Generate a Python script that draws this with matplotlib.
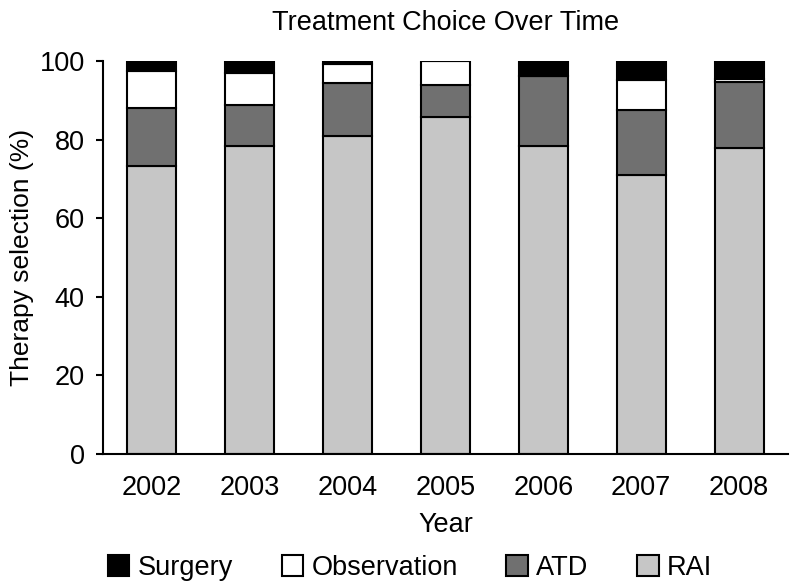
import matplotlib
matplotlib.use("Agg")
import matplotlib.pyplot as plt
import numpy as np

plt.rcParams['font.family'] = ['Liberation Sans', 'DejaVu Sans']

years = ['2002', '2003', '2004', '2005', '2006', '2007', '2008']
rai = [73.3, 78.4, 81.0, 85.8, 78.4, 71.1, 77.8]
atd = [14.8, 10.4, 13.4, 8.2, 17.7, 16.5, 16.9]
observation = [9.4, 8.1, 4.8, 6.0, 0.0, 7.5, 0.6]
surgery = [2.5, 3.1, 0.8, 0.0, 3.9, 4.9, 4.7]

series = [('RAI', rai, '#c6c6c6'),
          ('ATD', atd, '#707070'),
          ('Observation', observation, 'white'),
          ('Surgery', surgery, 'black')]

fig = plt.figure(figsize=(7.92, 5.86), dpi=100)
ax = fig.add_axes([0.1297, 0.2253, 0.8653, 0.6706])

x = np.arange(len(years))
bottom = np.zeros(len(years))
handles = {}
for name, vals, col in series:
    vals = np.array(vals)
    b = ax.bar(x, vals, 0.5, bottom=bottom, color=col, edgecolor='black',
               linewidth=1.5, label=name)
    handles[name] = b
    bottom += vals

ax.set_xlim(-0.5, 6.5)
ax.set_ylim(0, 100)
ax.set_xticks(x)
ax.set_xticklabels(years)
ax.set_yticks([0, 20, 40, 60, 80, 100])
ax.tick_params(axis='x', length=0, labelsize=19.5, pad=15)
ax.tick_params(axis='y', length=5, width=1.5, labelsize=19.5, pad=8)
for s in ['top', 'right']:
    ax.spines[s].set_visible(False)
for s in ['left', 'bottom']:
    ax.spines[s].set_linewidth(1.5)

ax.set_title('Treatment Choice Over Time', fontsize=19.5, pad=22)
ax.set_xlabel('Year', fontsize=19.5, labelpad=8)
ax.set_ylabel('Therapy selection (%)', fontsize=19, labelpad=4)

order = ['Surgery', 'Observation', 'ATD', 'RAI']
fig.legend([handles[n] for n in order], order, loc='center',
           bbox_to_anchor=(410 / 792, 1 - 568 / 586), ncol=4, frameon=False,
           fontsize=19.5, handlelength=0.8, handleheight=0.8,
           handletextpad=0.3, columnspacing=1.8)

fig.savefig('out.png', dpi=100)
